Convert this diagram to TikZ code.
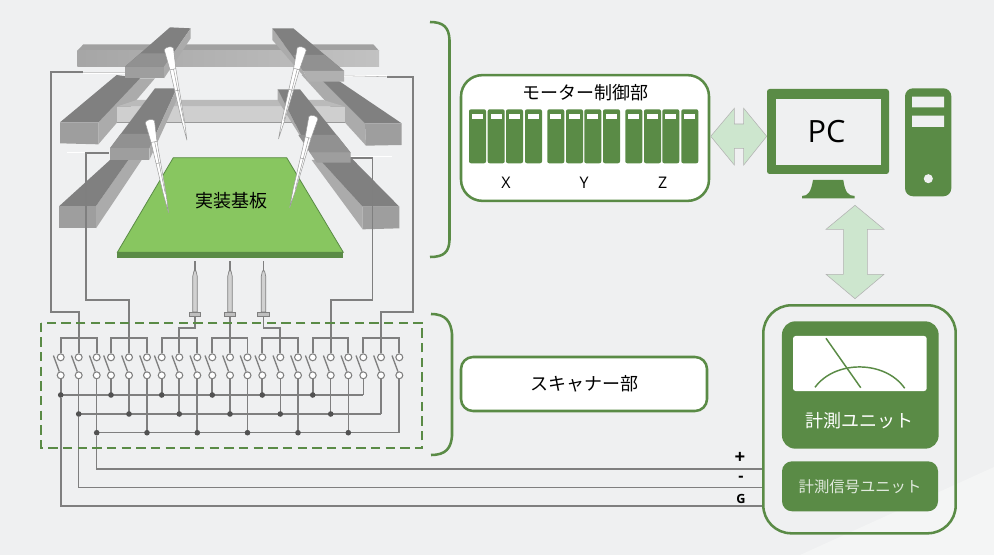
\documentclass[tikz,border=0pt]{standalone}
\usepackage{fontspec}
\setmainfont{Noto Sans CJK JP}
\newfontfamily\latinfont{Open Sans}
\usetikzlibrary{calc}
\definecolor{bggray}{HTML}{EFF0F1}
\definecolor{bglight}{HTML}{F4F5F5}
\definecolor{leaf}{HTML}{5A8B46}
\definecolor{pcbgreen}{HTML}{88C660}
\definecolor{arrowgreen}{HTML}{CDE6CE}
\definecolor{wiregray}{HTML}{7F7F7F}
\tikzset{
  wire/.style={draw=wiregray,line width=1.3pt},
  thinwire/.style={draw=wiregray,line width=0.8pt},
  contact/.style={draw=wiregray,fill=white,circle,line width=0.8pt,minimum size=5.2pt,inner sep=0pt},
  junction/.style={fill=black!68,circle,minimum size=4.2pt,inner sep=0pt},
  greenbox/.style={draw=leaf,line width=1.9pt,rounded corners=16pt,inner sep=0pt},
  solidbox/.style={fill=leaf,inner sep=0pt},
  twoway/.style={fill=arrowgreen,draw=black!30,line width=0.4pt},
  topface/.style={fill=black!50},
  carriagetop/.style={fill=black!43},
  frontface/.style={fill=black!38},
  sideface/.style={fill=black!33},
  lbl/.style={font=\fontsize{13.5pt}{15pt}\selectfont,inner sep=0pt},
}
\newcommand{\probepin}[3]{%
  \begin{scope}[shift={(#1,#2)},rotate=#3]
    \draw[fill=white,draw=black!40,line width=0.35pt] (-14,3) -- (-9,65) -- (-7,130) -- (-4,225) -- (0,282) -- (4,225) -- (7,130) -- (9,65) -- (14,3) .. controls (10,-5) and (-10,-5) .. (-14,3) -- cycle;
    \draw[draw=black!40,line width=0.35pt] (-9,65) -- (9,65) (-7,130) -- (7,130) (2,65) -- (2,225);
  \end{scope}}
\newcommand{\springpin}[1]{%
  \draw[fill=black!18,draw=wiregray,line width=0.5pt] (#1-2.2,312) -- (#1-2.2,276) -- (#1-1,271) -- (#1+1,271) -- (#1+2.2,276) -- (#1+2.2,312) -- cycle;
  \draw[fill=black!25,draw=wiregray,line width=0.5pt] (#1-5.7,312) rectangle (#1+5.7,316.7);
  \draw[thinwire] (#1,271) -- (#1,261);}
\begin{document}
\begin{tikzpicture}[x=0.75pt,y=-0.75pt]
  \useasboundingbox (0,0) rectangle (994,555);
  \fill[bggray] (0,0) rectangle (994,555);
  \fill[bglight] (994,467) -- (994,555) -- (800,555) -- cycle;

  % stage, in 3x crop pixels
  \begin{scope}[shift={(30,10)},x=0.25pt,y=-0.25pt]
    % back beam
    \fill[fill=black!37] (160,103) -- (1030,103) -- (1047,122) -- (142,122) -- cycle;
    \shade[left color=black!35,right color=black!24] (142,122) rectangle (1047,170);
    % upper rails
    \fill[sideface] (205,337) -- (320,205) -- (375,205) -- (205,403) -- cycle;
    \fill[topface] (90,337) -- (260,195) -- (330,205) -- (205,337) -- cycle;
    \fill[frontface] (90,337) -- (205,337) -- (205,403) -- (90,400) -- cycle;
    \fill[sideface] (1005,340) -- (1008,407) -- (815,195) -- (870,205) -- cycle;
    \fill[topface] (1115,340) -- (1005,340) -- (870,205) -- (915,205) -- cycle;
    \fill[frontface] (1005,340) -- (1115,340) -- (1115,405) -- (1008,407) -- cycle;
    % front beam
    \fill[fill=black!27] (320,270) -- (880,270) -- (945,290) -- (260,290) -- cycle;
    \fill[fill=black!19] (260,290) rectangle (945,338);
    \draw[draw=black!40,line width=0.4pt] (260,338) -- (945,338);
    % lower rails
    \fill[sideface] (198,588) -- (295,450) -- (335,450) -- (198,655) -- cycle;
    \fill[topface] (88,588) -- (240,450) -- (295,450) -- (198,588) -- cycle;
    \fill[frontface] (88,588) -- (198,588) -- (198,655) -- (88,655) -- cycle;
    \fill[sideface] (998,590) -- (998,658) -- (845,450) -- (870,450) -- cycle;
    \fill[topface] (1108,590) -- (998,590) -- (870,450) -- (960,440) -- cycle;
    \fill[frontface] (998,590) -- (1108,590) -- (1108,655) -- (998,658) -- cycle;
    % upper arms
    \fill[topface] (285,170) -- (420,52) -- (482,55) -- (402,170) -- cycle;
    \fill[carriagetop] (285,170) -- (332,130) -- (430,130) -- (402,170) -- cycle;
    \fill[frontface] (285,170) -- (402,170) -- (402,205) -- (285,205) -- cycle;
    \fill[sideface] (402,170) -- (482,55) -- (482,85) -- (402,205) -- cycle;
    \fill[sideface] (727,55) -- (820,183) -- (835,215) -- (727,90) -- cycle;
    \fill[topface] (727,55) -- (790,55) -- (942,183) -- (820,183) -- cycle;
    \fill[carriagetop] (790,135) -- (885,135) -- (942,183) -- (820,183) -- cycle;
    \fill[fill=black!31] (820,183) -- (942,183) -- (942,215) -- (835,215) -- cycle;
    % lower arms
    \fill[topface] (240,415) -- (375,235) -- (440,235) -- (358,415) -- cycle;
    \fill[carriagetop] (240,415) -- (272,372) -- (378,372) -- (358,415) -- cycle;
    \fill[frontface] (240,415) -- (358,415) -- (358,450) -- (240,450) -- cycle;
    \fill[sideface] (358,415) -- (440,235) -- (440,270) -- (358,450) -- cycle;
    \fill[sideface] (743,238) -- (840,428) -- (860,458) -- (743,270) -- cycle;
    \fill[topface] (743,238) -- (810,238) -- (962,428) -- (840,428) -- cycle;
    \fill[carriagetop] (805,375) -- (920,375) -- (962,428) -- (840,428) -- cycle;
    \fill[frontface] (840,428) -- (962,428) -- (962,458) -- (860,458) -- cycle;
    % board
    \fill[pcbgreen,draw=leaf,line width=0.6pt] (430,443) -- (770,443) -- (940,727) -- (262,727) -- cycle;
    \fill[leaf] (262,727) rectangle (940,743);
    % probes
    \probepin{416}{114}{11.2}
    \probepin{816}{114}{-14.5}
    \probepin{359}{332}{11.6}
    \probepin{851}{320}{-14.8}
  \end{scope}
  \node[lbl] (board) at (231.3,200.7) {実装基板};

  % carriage stubs
  \draw[white,line width=1.1pt] (83,72.8) -- (125,72.8) (67,152.7) -- (109,152.7) (344,76.2) -- (386.7,76.2) (351,156.7) -- (392,156.7);

  % brackets
  \draw[leaf,line width=1.9pt] (430,22) .. controls (444,22) and (449,28) .. (449.5,40) -- (449.5,240) .. controls (449,252) and (444,257) .. (430,257);
  \draw[leaf,line width=1.9pt] (431,314) .. controls (446,314) and (451,322) .. (452,334) -- (452,436) .. controls (451,448) and (446,455) .. (431,455);

  % motor unit
  \node[greenbox,fill=white,minimum width=186pt,minimum height=94.3pt] (motor) at (585,138) {};
  \node[lbl] (motortitle) at (585,93) {モーター制御部};
  \foreach \bx in {469,487.7,506,525,547.3,566,584.3,603,625.3,644,662.3,681.3} {
    \fill[leaf,rounded corners=1.5pt] (\bx,109.3) rectangle (\bx+17,163.3);
    \fill[white] (\bx+3,114.3) rectangle (\bx+14,119);
  }
  \node[font=\latinfont\fontsize{12pt}{14pt}\selectfont] (xaxis) at (506,183) {X};
  \node[font=\latinfont\fontsize{12pt}{14pt}\selectfont] (yaxis) at (584,183) {Y};
  \node[font=\latinfont\fontsize{12pt}{14pt}\selectfont] (zaxis) at (662.7,183) {Z};

  % PC
  \fill[leaf,rounded corners=2pt] (767,89) rectangle (889,174);
  \fill[bggray] (776,99) rectangle (880.7,165);
  \node[font=\latinfont\fontsize{23pt}{26pt}\selectfont] (pc) at (826.5,132) {PC};
  \fill[leaf] (813,180) -- (843.3,180) .. controls (845,192) and (848,196) .. (854.7,196) -- (854.7,198.5) -- (802,198.5) -- (802,196) .. controls (808,196) and (811,192) .. (813,180) -- cycle;
  \fill[leaf,rounded corners=6pt] (905,88.3) rectangle (951.3,196.3);
  \fill[bggray] (912,96.7) rectangle (944,107.3) (912,115.7) rectangle (944,127);
  \fill[bggray] (928.3,178.7) circle (3.4pt);

  % two way arrows
  \draw[twoway] (710.7,136.3) -- (734.3,108.3) -- (734.3,124) -- (743.7,124) -- (743.7,108.3) -- (766.7,136.3) -- (743.7,165) -- (743.7,148.3) -- (734.3,148.3) -- (734.3,165) -- cycle;
  \draw[twoway] (855,205.3) -- (884,229.3) -- (867.3,229.3) -- (867.3,274.3) -- (884,274.3) -- (855,298.7) -- (826,274.3) -- (843.3,274.3) -- (843.3,229.3) -- (826,229.3) -- cycle;

  % scanner label
  \node[greenbox,fill=white,rounded corners=9pt,minimum width=184.5pt,minimum height=40.5pt,lbl] (scanbox) at (584,384) {スキャナー部};

  % measuring side
  \node[greenbox,rounded corners=21pt,minimum width=144.3pt,minimum height=171pt] (meas) at (859.5,419.3) {};
  \node[solidbox,rounded corners=10pt,minimum width=117.5pt,minimum height=95.5pt] (unit) at (860.3,385) {};
  \fill[white,rounded corners=2pt] (793,336) rectangle (926.7,391);
  \draw[leaf,line width=1.1pt] (826,338.3) -- (860.7,387.7);
  \draw[leaf,line width=1.1pt] (815,387.3) .. controls (835,360) and (885,360) .. (904.7,388.3);
  \node[lbl,text=white] (unitname) at (859.3,420.7) {計測ユニット};
  \node[solidbox,rounded corners=7.5pt,minimum width=117pt,minimum height=37.5pt,text=white!82!leaf,font=\fontsize{11.5pt}{13pt}\selectfont] (signal) at (860,486.3) {計測信号ユニット};

  % switches
  \foreach \sx [count=\si] in {60.7,78.7,96.7,111,129,147,161.7,179.3,197.3,212.3,230,247.5,262.3,280.3,298,312.7,330.7,348.3,363.3,381,399.3} {
    \node[contact] (t\si) at (\sx,357.3) {};
    \node[contact] (b\si) at (\sx,375.3) {};
    \coordinate (k\si) at (\sx-7.3,355.5);
    \draw[wire,line width=1pt] (b\si) -- (k\si);
  }

  % group buses
  \foreach \ga/\gb/\gc in {1/2/3,4/5/6,7/8/9,10/11/12,13/14/15,16/17/18,19/20/21} {
    \coordinate (m\gb) at ($(t\gb)+(0,-19)$);
    \draw[wire] (t\ga) |- (m\gb) -| (t\gc);
    \draw[wire] (t\gb) -- (m\gb);
  }

  % common lines
  \foreach \i/\yy/\s in {1/395/wire,4/395/thinwire,7/395/wire,10/395/wire,13/395/wire,16/395/wire,19/395/thinwire,
      2/414/thinwire,5/414/wire,8/414/wire,11/414/thinwire,14/414/thinwire,17/414/thinwire,20/414/wire,
      3/432.7/thinwire,6/432.7/wire,9/432.7/wire,12/432.7/wire,15/432.7/wire,18/432.7/thinwire,21/432.7/wire} {
    \coordinate (d\i) at (t\i |- 0,\yy);
    \draw[\s] (b\i) -- (d\i);
  }
  \draw[thinwire,line width=1pt] (d1) -- (d19);
  \draw[thinwire,line width=1pt] (d2) -- (d20);
  \draw[thinwire,line width=1pt] (d3) -- (d21);
  \foreach \i in {1,4,7,10,13,16,2,5,8,11,14,17,3,6,9,12,15,18}
    \node[junction] (dot\i) at (d\i) {};

  % leads to the signal unit
  \coordinate (lp) at (96.7,469);
  \coordinate (lm) at (78.7,487.7);
  \coordinate (lg) at (60.7,506);
  \draw[thinwire,line width=1pt] (dot3) -- (lp) -- (meas.west |- lp);
  \draw[thinwire,line width=1pt] (dot2) -- (lm) -- (meas.west |- lm);
  \draw[wire] (dot1) -- (lg) -- (meas.west |- lg);
  \node[font=\latinfont\bfseries\fontsize{14pt}{15pt}\selectfont,inner sep=0pt] (plus) at (740,457.5) {+};
  \node[font=\latinfont\bfseries\fontsize{12pt}{13pt}\selectfont,inner sep=0pt] (minus) at (741,478.5) {-};
  \node[font=\latinfont\bfseries\fontsize{9.5pt}{10pt}\selectfont,inner sep=0pt] (ground) at (741,499) {G};

  % leads to the carriages and pins
  \coordinate (ca) at (83,72.3);
  \coordinate (cb) at (109,153.3);
  \coordinate (cc) at (351,157.7);
  \coordinate (cd) at (386.7,76.7);
  \draw[wire] (t2) |- (51,311.7) |- (ca);
  \draw[wire] (t5) |- (86,300) |- (cb);
  \draw[wire] (t17) |- (372.5,300) |- (cc);
  \draw[wire] (t20) |- (413.3,311.7) |- (cd);
  \draw[draw=black!30,line width=0.4pt] (ca) -- (125,72.3) (344,75.8) -- (cd);

  \springpin{195}
  \springpin{230}
  \springpin{263.5}
  \draw[wire] (195,316.7) |- (179.3,328.3) -- (m8);
  \draw[wire] (230,316.7) -- (m11);
  \draw[wire] (263.5,316.7) |- (280.3,328.3) -- (m14);

  % scanner frame
  \draw[leaf,line width=1.5pt,dash pattern=on 7pt off 4pt] (41.3,322.7) rectangle (422.3,447.7);
\end{tikzpicture}
\end{document}
